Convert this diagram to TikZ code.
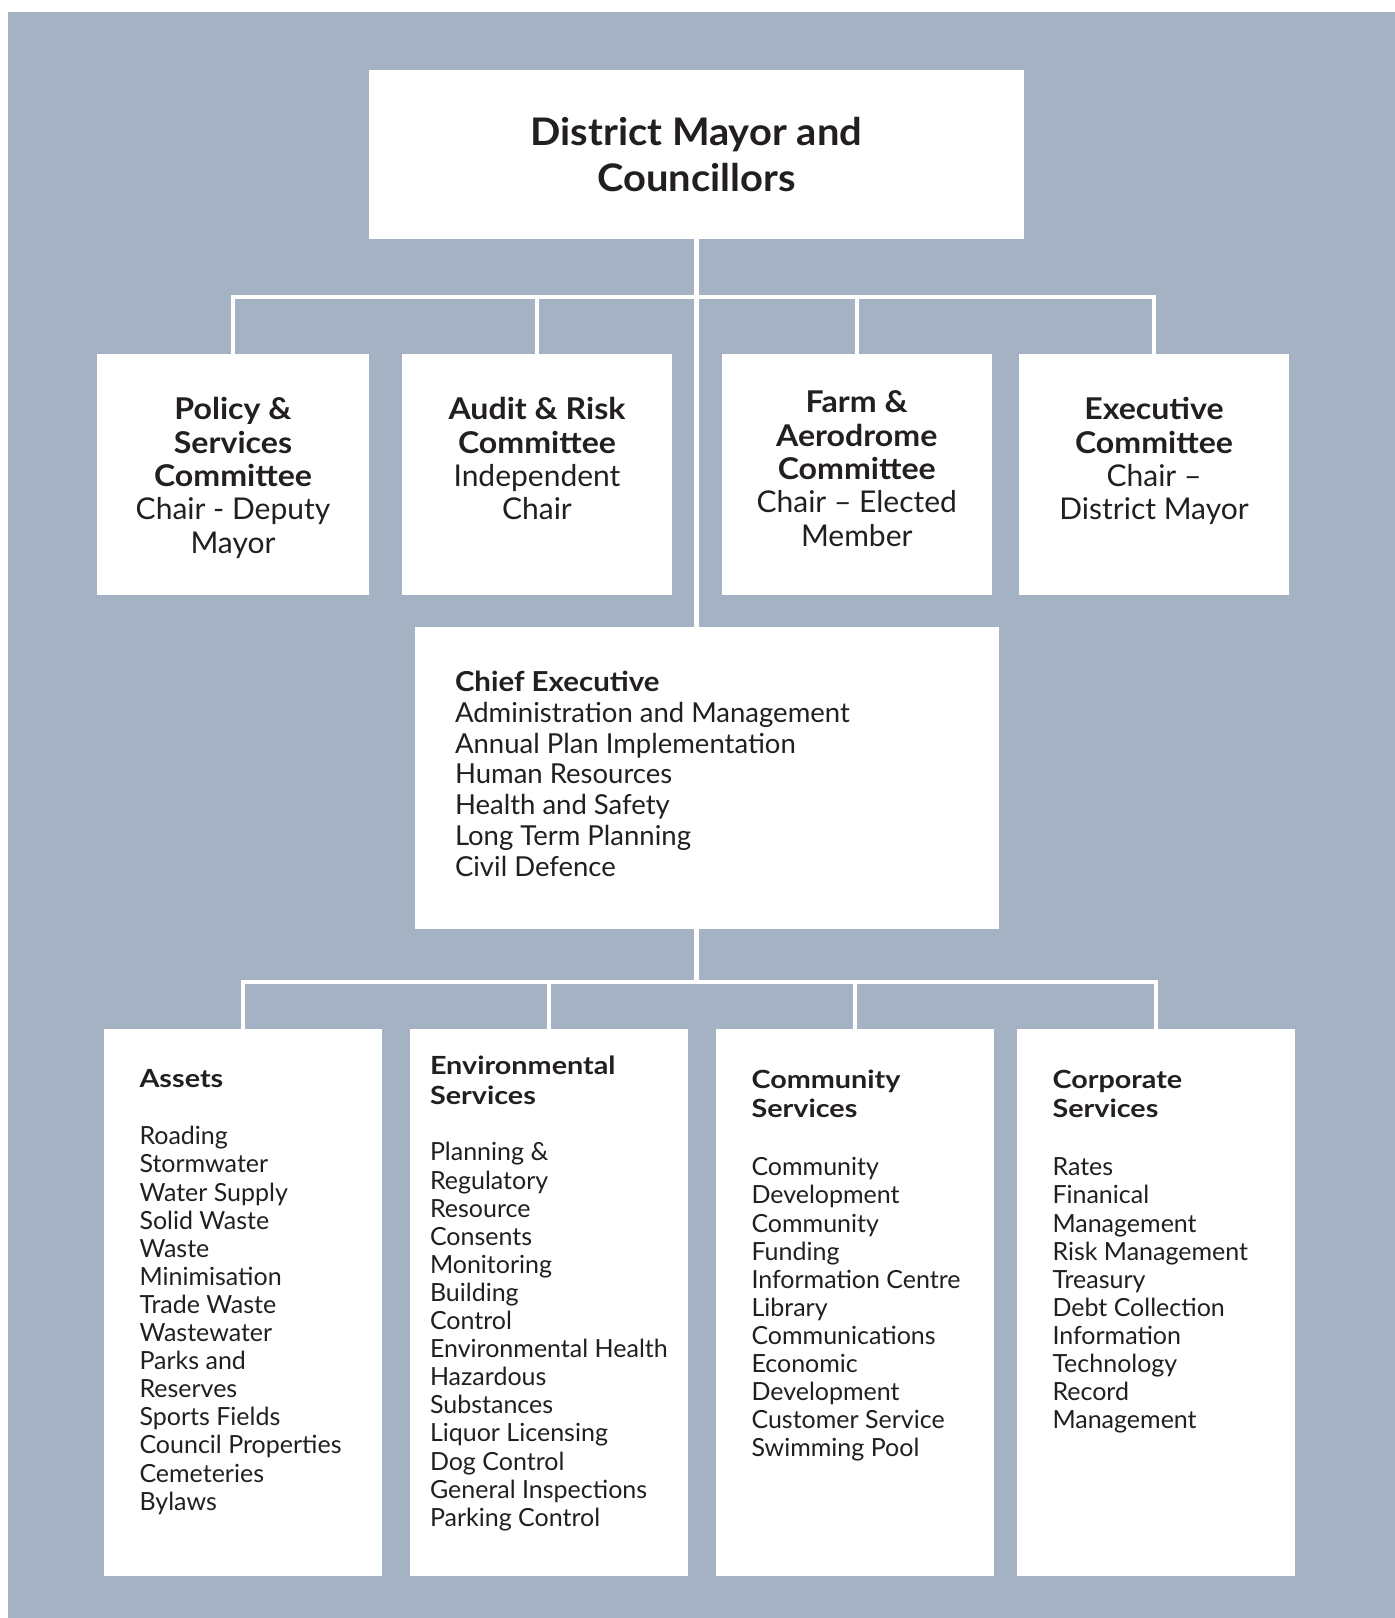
\documentclass[tikz,border=0pt]{standalone}
\usepackage{fontspec}
\setmainfont{Lato}
\newfontfamily\headfont{Lato}[FakeStretch=1.07]
\newfontfamily\titlefont{Lato}[FakeStretch=1.05]
\newfontfamily\deptfont{Lato}[FakeStretch=1.15]
\usetikzlibrary{positioning,calc}
\definecolor{bgblue}{HTML}{A4B2C3}
\definecolor{ink}{HTML}{231F20}
\newcommand{\hd}[1]{{\headfont\bfseries #1}}
\newcommand{\dhd}[1]{{\deptfont\bfseries #1}}
\tikzset{
	%estils de les caixes i dels textos
	box/.style = {rectangle, fill=white, inner sep=0pt},
	link/.style = {draw=white, line width=4.5pt},
	toptext/.style = {text width=620pt, align=flush center,
	                  font=\fontsize{38}{45.5}\selectfont\titlefont\bfseries},
	comtext/.style = {text width=262pt, align=flush center, inner sep=0pt,
	                  font=\fontsize{30}{33.3}\selectfont},
	cetext/.style = {text width=520pt, align=flush left, inner sep=0pt,
	                 font=\fontsize{27.5}{30.8}\selectfont},
	listtext/.style = {text width=250pt, align=flush left, inner sep=0pt,
	                   font=\fontsize{25}{28.1}\selectfont}
}
\begin{document}
\begin{tikzpicture}[x=1pt, y=-1pt, text=ink]
	\useasboundingbox (0,0) rectangle (1395,1618);
	\fill[bgblue] (8,12) rectangle (1395,1618);

	\node (mayor) [box, toptext, minimum width=655pt, minimum height=169pt] at (696.5,154.5)
		{District Mayor and\\Councillors};

	% comites
	\node (pol)  [box, minimum width=272pt, minimum height=241pt] at (233,474.5) {};
	\node (aud)  [box, minimum width=270pt, minimum height=241pt] at (537,474.5) {};
	\node (farm) [box, minimum width=270pt, minimum height=241pt] at (856.75,474.5) {};
	\node (exe)  [box, minimum width=270pt, minimum height=241pt] at (1154,474.5) {};

	\node (poltxt)  [comtext, below=66pt of pol.north, anchor=base]
		{\hd{Policy \&}\\\hd{Services}\\\hd{Committee}\\Chair - Deputy\\Mayor};
	\node (audtxt)  [comtext, below=66pt of aud.north, anchor=base]
		{\hd{Audit \& Risk}\\\hd{Committee}\\Independent\\Chair};
	\node (farmtxt) [comtext, below=59pt of farm.north, anchor=base]
		{\hd{Farm \&}\\\hd{Aerodrome}\\\hd{Committee}\\Chair – Elected\\Member};
	\node (exetxt)  [comtext, below=66pt of exe.north, anchor=base]
		{\hd{Executive}\\\hd{Committee}\\Chair –\\District Mayor};

	\node (ce) [box, minimum width=584pt, minimum height=302pt] at (707,778) {};
	\node (cetxt) [cetext, below right=64.7pt and 40pt of ce.north west, anchor=base west]
		{\hd{Chief Executive}\\Administration and Management\\Annual Plan Implementation\\
		 Human Resources\\Health and Safety\\Long Term Planning\\Civil Defence};

	% departaments
	\node (assets) [box, minimum width=278pt, minimum height=547pt] at (243,1302.5) {};
	\node (env)    [box, minimum width=278pt, minimum height=547pt] at (549,1302.5) {};
	\node (comm)   [box, minimum width=278pt, minimum height=547pt] at (855,1302.5) {};
	\node (corp)   [box, minimum width=278pt, minimum height=547pt] at (1156,1302.5) {};

	\node (assetstxt) [listtext, below right=59pt and 35.5pt of assets.north west, anchor=base west]
		{\dhd{Assets}\\[28.9pt]Roading\\Stormwater\\Water Supply\\Solid Waste\\Waste\\
		 Minimisation\\Trade Waste\\Wastewater\\Parks and\\Reserves\\Sports Fields\\
		 Council Properties\\Cemeteries\\Bylaws};
	\node (envtxt) [listtext, below right=45.3pt and 20pt of env.north west, anchor=base west]
		{\dhd{Environmental}\\[2pt]\dhd{Services}\\[28.6pt]Planning \&\\Regulatory\\
		 Resource\\Consents\\Monitoring\\Building\\Control\\Environmental Health\\Hazardous\\
		 Substances\\Liquor Licensing\\Dog Control\\General Inspections\\Parking Control};
	\node (commtxt) [listtext, below right=59.3pt and 35.5pt of comm.north west, anchor=base west]
		{\dhd{Community}\\[1.6pt]\dhd{Services}\\[29.9pt]Community\\Development\\
		 Community\\Funding\\Information Centre\\Library\\Communications\\Economic\\
		 Development\\Customer Service\\Swimming Pool};
	\node (corptxt) [listtext, below right=59.3pt and 35.5pt of corp.north west, anchor=base west]
		{\dhd{Corporate}\\[1.6pt]\dhd{Services}\\[29.9pt]Rates\\Finanical\\Management\\
		 Risk Management\\Treasury\\Debt Collection\\Information\\Technology\\Record\\
		 Management};

	% connexions
	\coordinate [below=58pt of mayor.south] (topbus);
	\coordinate (lowbus) at ($(mayor.south |- ce.south)+(0,53)$);
	\draw[link] (mayor.south) -- (mayor.south |- ce.north);
	\draw[link] (pol.north) -- (pol.north |- topbus) -- (exe.north |- topbus) -- (exe.north);
	\draw[link] (aud.north) -- (aud.north |- topbus);
	\draw[link] (farm.north) -- (farm.north |- topbus);
	\draw[link] (mayor.south |- ce.south) -- (lowbus);
	\draw[link] (assets.north) -- (assets.north |- lowbus) -- (corp.north |- lowbus) -- (corp.north);
	\draw[link] (env.north) -- (env.north |- lowbus);
	\draw[link] (comm.north) -- (comm.north |- lowbus);
\end{tikzpicture}
\end{document}
